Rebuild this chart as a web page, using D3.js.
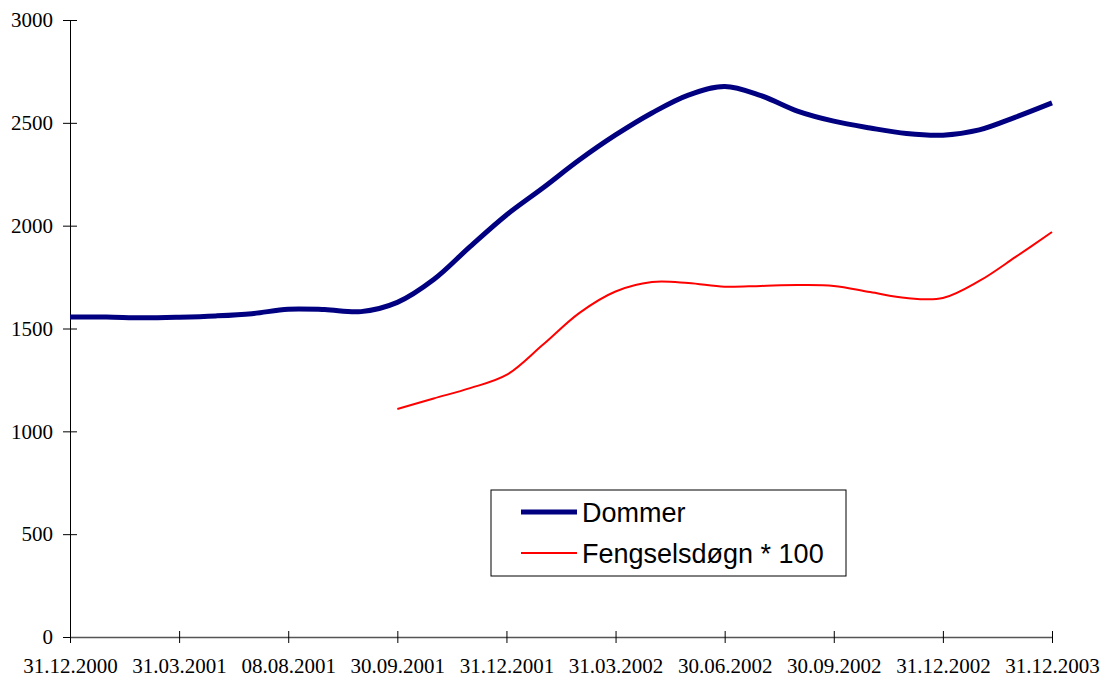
<!DOCTYPE html>
<meta charset="utf-8">
<script src="https://d3js.org/d3.v7.min.js"></script>
<style>
  body { margin: 0; background: #fff; }
</style>
<body>
<div id="chart"></div>
<script>
// tick labels on the category axis (3 data points per interval)
const dateLabels = ["31.12.2000", "31.03.2001", "08.08.2001", "30.09.2001", "31.12.2001",
                    "31.03.2002", "30.06.2002", "30.09.2002", "31.12.2002", "31.12.2003"];
const stepsPerLabel = 3;

// values, one per step
const dommer = [1556, 1556, 1552, 1555, 1561, 1572, 1594, 1592, 1582, 1627,
                1738, 1898, 2052, 2183, 2319, 2441, 2548, 2635, 2677, 2632,
                2557, 2508, 2475, 2448, 2440, 2466, 2528, 2597];
const fengsel = [null, null, null, null, null, null, null, null, null, 1109,
                 1160, 1210, 1274, 1421, 1575, 1680, 1726, 1721, 1703, 1707,
                 1711, 1707, 1677, 1648, 1648, 1731, 1848, 1969];
const yTicks = [0, 500, 1000, 1500, 2000, 2500, 3000];

const width = 1100, height = 679;
const margin = {top: 20, right: 48, bottom: 42, left: 70};

const svg = d3.select("#chart")
  .append("svg")
  .attr("width", width)
  .attr("height", height);

const x = d3.scaleLinear()
  .domain([0, dommer.length - 1])
  .range([margin.left, width - margin.right]);

const y = d3.scaleLinear()
  .domain([0, 3000])
  .range([height - margin.bottom, margin.top]);

const serif = "'Liberation Serif', 'Times New Roman', serif";

// y axis
const yAxis = svg.append("g")
  .attr("transform", `translate(${margin.left},0)`)
  .call(d3.axisLeft(y).tickValues(yTicks).tickFormat(d3.format("d"))
    .tickSize(0).tickPadding(17));
yAxis.attr("font-family", serif).attr("font-size", 21);
yAxis.select(".domain").attr("stroke", "#000");
yAxis.selectAll(".tick line").attr("x1", -7).attr("x2", 7).attr("stroke", "#000");
yAxis.selectAll("text").attr("fill", "#000");

// x axis
const xAxis = svg.append("g")
  .attr("transform", `translate(0,${height - margin.bottom})`)
  .call(d3.axisBottom(x)
    .tickValues(dateLabels.map((d, i) => i * stepsPerLabel))
    .tickFormat((d, i) => dateLabels[i])
    .tickSize(0).tickPadding(21));
xAxis.attr("font-family", serif).attr("font-size", 21);
xAxis.select(".domain").attr("stroke", "#555").attr("stroke-width", 1.5);
xAxis.selectAll(".tick line").attr("y1", -6).attr("y2", 6).attr("stroke", "#000");
xAxis.selectAll("text").attr("fill", "#000");

// lines
const line = d3.line()
  .defined(d => d != null)
  .x((d, i) => x(i))
  .y(d => y(d))
  .curve(d3.curveCatmullRom.alpha(0.5));

svg.append("path")
  .datum(dommer)
  .attr("fill", "none")
  .attr("stroke", "#000080")
  .attr("stroke-width", 5)
  .attr("stroke-linejoin", "round")
  .attr("d", line);

svg.append("path")
  .datum(fengsel)
  .attr("fill", "none")
  .attr("stroke", "#ff0000")
  .attr("stroke-width", 2)
  .attr("d", line);

// legend
const legend = svg.append("g").attr("transform", "translate(491,490)");
legend.append("rect")
  .attr("width", 355).attr("height", 86)
  .attr("fill", "#fff").attr("stroke", "#000").attr("stroke-width", 1);

const items = [
  {name: "Dommer", color: "#000080", w: 5},
  {name: "Fengselsdøgn * 100", color: "#ff0000", w: 2}
];
items.forEach((it, i) => {
  const cy = 22 + i * 41;
  legend.append("line")
    .attr("x1", 30).attr("x2", 86).attr("y1", cy).attr("y2", cy)
    .attr("stroke", it.color).attr("stroke-width", it.w);
  legend.append("text")
    .attr("x", 91).attr("y", cy)
    .attr("dy", "0.36em")
    .style("font-family", "'Liberation Sans', Arial, sans-serif")
    .style("font-size", "27px")
    .text(it.name);
});
</script>
</body>
</html>
